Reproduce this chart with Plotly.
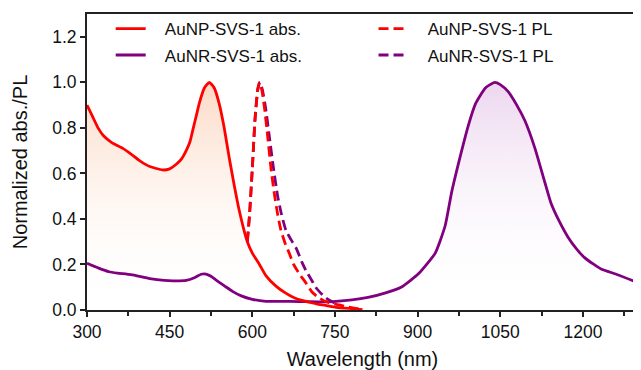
import plotly.graph_objects as go

# ---------------- data ----------------
np_abs_wl = [300, 310, 320, 330, 345, 365, 380, 396, 414, 437, 450, 462, 472, 480, 487, 492, 498, 504,
             513, 522, 531, 540, 549, 558, 567, 576, 585, 591, 600, 613, 625, 643, 660, 675, 690, 705,
             720, 735, 752, 780, 800]
np_abs_val = [0.90, 0.85, 0.80, 0.765, 0.735, 0.71, 0.685, 0.655, 0.63, 0.615, 0.62, 0.64, 0.665, 0.70,
              0.74, 0.79, 0.85, 0.91, 0.975, 1.0, 0.975, 0.905, 0.80, 0.67, 0.55, 0.44, 0.35, 0.30, 0.25,
              0.20, 0.15, 0.105, 0.075, 0.055, 0.042, 0.033, 0.025, 0.019, 0.012, 0.006, 0.002]

nr_abs_wl = [300, 320, 340, 355, 380, 414, 440, 456, 480, 495, 507, 516, 525, 535, 550, 564, 580, 600,
             625, 654, 685, 720, 752, 781, 810, 842, 870, 902, 932, 950, 962, 980, 992, 1005, 1023, 1040,
             1050, 1064, 1080, 1095, 1113, 1131, 1142, 1157, 1173, 1188, 1203, 1220, 1233, 1263, 1300]
nr_abs_val = [0.205, 0.185, 0.168, 0.162, 0.155, 0.138, 0.13, 0.128, 0.13, 0.142, 0.157, 0.158, 0.148,
              0.13, 0.105, 0.082, 0.062, 0.047, 0.038, 0.038, 0.037, 0.036, 0.038, 0.044, 0.055, 0.075,
              0.10, 0.16, 0.25, 0.37, 0.52, 0.70, 0.81, 0.905, 0.975, 1.0, 0.99, 0.96, 0.90, 0.83, 0.71,
              0.56, 0.47, 0.39, 0.32, 0.27, 0.23, 0.20, 0.18, 0.155, 0.12]

np_pl_wl = [591, 595, 600, 605, 610, 613, 617, 622, 628, 634, 640, 646, 652, 660, 667, 675, 685, 697,
            708, 720, 735, 752, 770, 790, 800]
np_pl_val = [0.30, 0.42, 0.62, 0.84, 0.97, 1.0, 0.97, 0.89, 0.76, 0.62, 0.51, 0.42, 0.35, 0.29, 0.25,
             0.20, 0.16, 0.12, 0.08, 0.055, 0.035, 0.025, 0.015, 0.006, 0.002]

nr_pl_wl = [591, 595, 600, 605, 610, 614, 618, 624, 631, 638, 646, 653, 661, 670, 680, 690, 698, 708,
            715, 728, 739, 750, 760]
nr_pl_val = [0.30, 0.42, 0.62, 0.84, 0.97, 1.0, 0.97, 0.89, 0.76, 0.63, 0.50, 0.42, 0.35, 0.31, 0.27,
             0.21, 0.17, 0.13, 0.10, 0.065, 0.044, 0.03, 0.02]

names = ["AuNP-SVS-1 abs.", "AuNR-SVS-1 abs.", "AuNP-SVS-1 PL", "AuNR-SVS-1 PL"]
x_ticks = [300, 450, 600, 750, 900, 1050, 1200]
y_ticks = [0.0, 0.2, 0.4, 0.6, 0.8, 1.0, 1.2]

RED = "#ff0000"
PURPLE = "#800080"
FONT = "Liberation Sans, Arial, sans-serif"
SP = "\u00a0\u00a0\u00a0"
SM = 0.5
LW = 2.8

fig = go.Figure()

# gradient fills
fig.add_trace(go.Scatter(
    x=nr_abs_wl, y=nr_abs_val, mode="lines", line=dict(width=0, shape="spline", smoothing=SM),
    fill="tozeroy",
    fillgradient=dict(type="vertical", start=0, stop=1,
                      colorscale=[[0, "rgba(255,255,255,0)"], [1, "rgba(232,205,235,0.8)"]]),
    showlegend=False, hoverinfo="skip"))
fig.add_trace(go.Scatter(
    x=np_abs_wl, y=np_abs_val, mode="lines", line=dict(width=0, shape="spline", smoothing=SM),
    fill="tozeroy",
    fillgradient=dict(type="vertical", start=0, stop=1,
                      colorscale=[[0, "rgba(255,255,255,0)"], [1, "rgba(251,208,182,0.8)"]]),
    showlegend=False, hoverinfo="skip"))

# lines
fig.add_trace(go.Scatter(x=nr_abs_wl, y=nr_abs_val, mode="lines", name=SP + names[1],
                         line=dict(color=PURPLE, width=LW, shape="spline", smoothing=SM),
                         legend="legend2"))
fig.add_trace(go.Scatter(x=np_abs_wl, y=np_abs_val, mode="lines", name=SP + names[0],
                         line=dict(color=RED, width=LW, shape="spline", smoothing=SM),
                         legend="legend"))
fig.add_trace(go.Scatter(x=nr_pl_wl, y=nr_pl_val, mode="lines", name=SP + names[3],
                         line=dict(color=PURPLE, width=LW, dash="10px,5px", shape="spline", smoothing=SM),
                         legend="legend4"))
fig.add_trace(go.Scatter(x=np_pl_wl, y=np_pl_val, mode="lines", name=SP + names[2],
                         line=dict(color=RED, width=LW, dash="10px,5px", shape="spline", smoothing=SM),
                         legend="legend3"))

leg_common = dict(bgcolor="rgba(0,0,0,0)", borderwidth=0, font=dict(family=FONT, size=17, color="#111"),
                  yanchor="middle", xanchor="left", itemwidth=30)
# the page body adds an 8 px offset, so the figure is 8 px smaller and margins shifted
fig.update_layout(
    width=633, height=362,
    margin=dict(l=79, r=3, t=6, b=60),
    paper_bgcolor="white", plot_bgcolor="white",
    font=dict(family=FONT, color="#111"),
    legend=dict(x=0.043, y=0.949, **leg_common),
    legend2=dict(x=0.043, y=0.86, **leg_common),
    legend3=dict(x=0.52, y=0.949, **leg_common),
    legend4=dict(x=0.52, y=0.86, **leg_common),
    xaxis=dict(range=[300, 1300], tickvals=x_ticks, ticktext=[str(v) for v in x_ticks],
               ticks="outside", ticklen=5, tickwidth=1.5, tickcolor="#222",
               minor=dict(ticks="outside", ticklen=4, tickwidth=1.5, tickcolor="#222", dtick=75, tick0=300),
               showline=True, linecolor="#222", linewidth=2, mirror=True,
               showgrid=False, zeroline=False, automargin=False,
               tickfont=dict(family=FONT, size=17.5, color="#111"),
               title=dict(text="Wavelength (nm)", font=dict(family=FONT, size=20, color="#111"), standoff=13)),
    yaxis=dict(range=[0, 1.3], tickvals=y_ticks, ticktext=[f"{v:.1f}" for v in y_ticks],
               ticks="outside", ticklen=5, tickwidth=1.5, tickcolor="#222",
               showline=True, linecolor="#222", linewidth=2, mirror=True,
               showgrid=False, zeroline=False, automargin=False,
               tickfont=dict(family=FONT, size=17.5, color="#111"),
               title=dict(text="Normalized abs./PL", font=dict(family=FONT, size=20, color="#111"), standoff=19)),
)

fig.write_html("out.html")
